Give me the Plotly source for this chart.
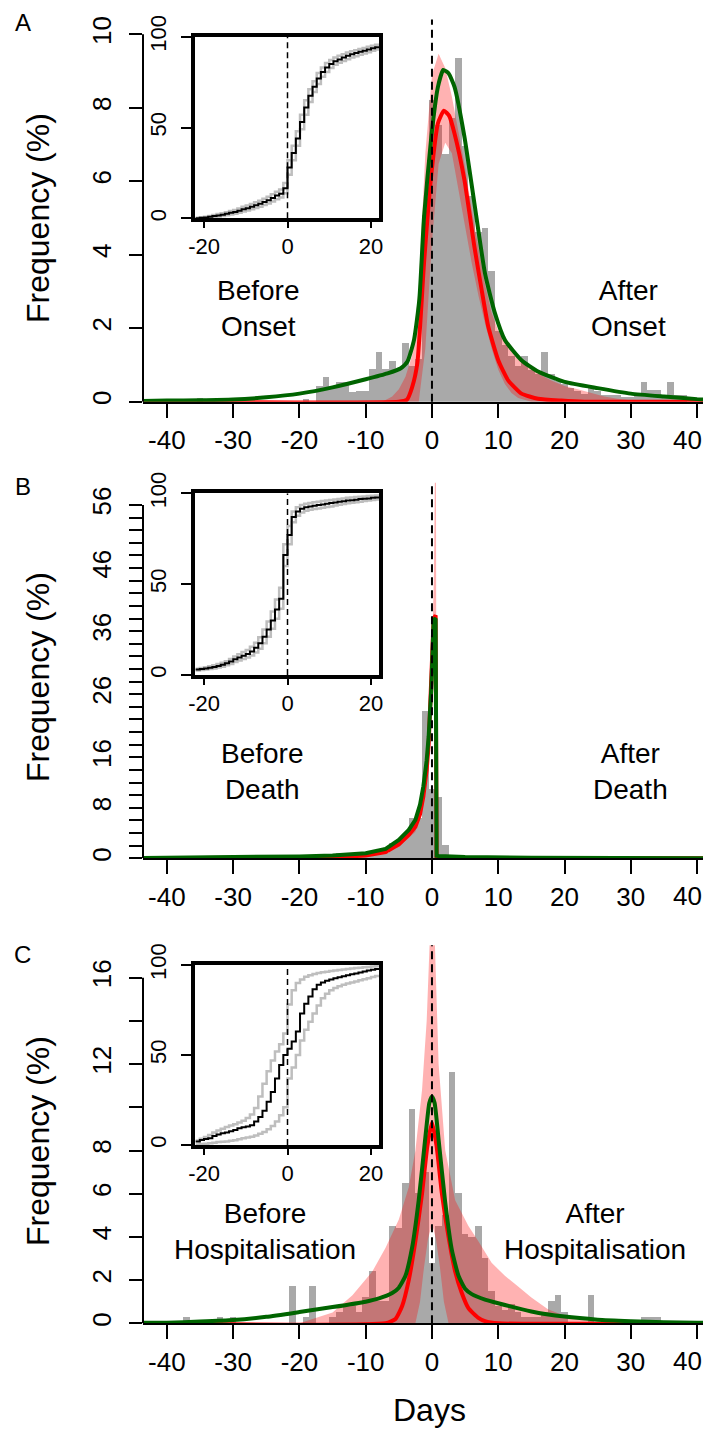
import plotly.graph_objects as go

# ---------------- data ----------------
# Panel A (onset): histogram, % per day
A_hist_days = [-35, -19, -17, -16, -15, -14, -13, -12, -11, -10, -9, -8, -7, -6, -5, -4, -3, -2, -1, 0,
               1, 2, 3, 4, 5, 6, 7, 8, 9, 10, 11, 12, 13, 14, 15, 16, 17, 18, 19, 20,
               21, 22, 23, 24, 25, 26, 27, 28, 29, 30, 31, 32, 33, 34, 35, 36, 37, 38]
A_hist_pct = [0.1, 0.08, 0.43, 0.67, 0.43, 0.56, 0.56, 0.27, 0.29, 0.29, 0.91, 1.36, 0.91, 1.11, 0.91, 1.6, 0.97, 1.16,
              5.08, 8.21, 7.53, 6.76, 7.73, 9.37, 6.96, 5.6, 4.64, 4.73, 3.57, 1.93, 1.55, 1.26, 0.97, 1.25, 0.87, 0.77,
              1.36, 0.77, 0.58, 0.48, 0.39, 0.29, 0.22, 0.41, 0.29, 0.19, 0.19, 0.19, 0.14, 0.14, 0.19, 0.54, 0.32, 0.32,
              0.1, 0.54, 0.19, 0.19]
A_red_x = [-43.6, -5, -3.8, -3, -2.2, -1.2, -0.1, 0.9, 1.8, 2.6, 3.4, 4.9, 6.4, 7.5, 8.5, 10, 11.5, 13.5, 16, 19.5, 23, 42.1]
A_red_y = [0, 0, 0.05, 0.39, 1.06, 3.77, 6.18, 7.58, 7.92, 7.78, 7.3, 6.03, 4.22, 3.04, 2.04, 1.13, 0.58, 0.22, 0.08, 0.03, 0, 0]
A_green_x = [-43.6, -40, -35, -30, -25, -20, -15, -10, -6.7, -4.7, -3.7, -2.7, -1.9, -1.2, -0.1, 0.9, 1.7, 2.5, 3.4,
             4.9, 6.4, 8, 9.5, 11, 13.5, 16, 20, 25, 30, 35, 40, 42.1]
A_green_y = [0.02, 0.03, 0.04, 0.06, 0.12, 0.22, 0.39, 0.61, 0.77, 0.91, 1.09, 1.69, 2.8, 5.02, 7.21, 8.57, 9.03, 8.94, 8.57,
             7.21, 5.4, 3.49, 2.41, 1.68, 1.13, 0.82, 0.54, 0.37, 0.22, 0.14, 0.07, 0.05]
A_upper_x = [-7.5, -6, -5, -4, -3, -2, -1, 0, 1, 2, 3, 4, 5, 6, 7, 8, 9, 10, 11, 12, 14, 16, 18, 20, 22, 24, 26, 28, 30, 32]
A_upper_y = [0, 0.14, 0.34, 0.68, 1.26, 3.09, 6.76, 8.89, 9.47, 9.08, 8.31, 7.34, 6.38, 5.22, 4.15, 3.19, 2.42, 1.93, 1.64,
             1.4, 1.06, 0.77, 0.58, 0.43, 0.34, 0.24, 0.14, 0.08, 0.03, 0]
A_lower_x = [-2, -1, 0, 1, 2, 3, 4, 5, 6, 7, 8, 9, 10, 11, 12, 13, 15]
A_lower_y = [0, 1.45, 4.35, 6.47, 7.05, 6.76, 5.8, 4.73, 3.77, 2.9, 2.13, 1.45, 0.87, 0.48, 0.24, 0.1, 0]

# Panel B (death)
B_hist_days = [-26, -20, -17, -14, -12, -11, -10, -9, -8, -7, -6, -5, -4, -3, -2, -1, 0, 1, 2, 3, 4, 5, 6, 8, 12]
B_hist_pct = [0.3, 0.2, 0.3, 0.8, 0.4, 0.5, 0.6, 0.6, 0.8, 0.8, 2.4, 2.4, 3.4, 6.35, 6.35, 23.3, 11.0, 9.8, 2.1, 0.5,
              0.5, 0.3, 0.2, 0.2, 0.2]
B_red_x = [-43.6, -25, -15, -10, -7, -5, -3.5, -2.5, -1.8, -1.3, -0.8, -0.5, -0.1, 0.25, 0.55, 0.7, 42.1]
B_red_y = [0, 0.05, 0.15, 0.45, 1.0, 2.2, 3.7, 5.0, 7.0, 9.8, 14, 18, 27, 38, 38.5, 0, 0]
B_green_x = [-43.6, -30, -20, -15, -10, -7, -5, -3.5, -2.5, -1.8, -1.3, -0.8, -0.5, -0.1, 0.25, 0.55, 0.7, 1, 5, 15, 25, 42.1]
B_green_y = [0.05, 0.15, 0.3, 0.45, 0.8, 1.5, 2.9, 4.5, 6.1, 8.5, 11.4, 15.5, 19.3, 27, 37.8, 38.0, 0.4, 0.35, 0.2, 0.08, 0.05, 0.02]
B_upper_x = [-43.6, -20, -10, -5, -2.5, -1.3, -0.5, 0, 0.3, 0.45, 0.6, 0.7, 42.1]
B_upper_y = [0, 0.1, 0.6, 2.6, 5.8, 11, 20, 32, 45, 62, 62, 0, 0]
B_lower_x = [-43.6, -10, -5, -2.5, -1.3, -0.5, 0, 0.5, 0.6, 0.7, 42.1]
B_lower_y = [0, 0.3, 1.8, 4.2, 8.5, 16, 24, 30, 30, 0, 0]

# Panel C (hospitalisation)
C_hist_days = [-37, -32, -30, -21, -19, -18, -15, -14, -13, -12, -11, -10, -9, -8, -7, -6, -5, -4, -3, -2, -1, 0,
               1, 2, 3, 4, 5, 6, 7, 8, 9, 10, 11, 12, 13, 14, 15, 16, 17, 18, 19, 20, 24, 32, 33, 34]
C_hist_pct = [0.3, 0.3, 0.3, 1.7, 0.3, 1.7, 0.3, 0.5, 0.8, 0.8, 0.5, 1.2, 2.4, 1.0, 1.0, 4.5, 4.4, 6.5, 9.9, 6.0, 7.0, 2.8,
              4.5, 5.0, 11.6, 6.0, 4.1, 4.0, 4.5, 3.0, 1.5, 0.8, 0.6, 0.9, 0.5, 0.3, 0.3, 0.3, 0.5, 1.0, 1.3, 0.5, 1.3,
              0.3, 0.3, 0.3]
C_red_x = [-43.6, -7, -5.5, -4.5, -3.5, -2.5, -1.5, -0.7, 0, 0.7, 1.5, 2.5, 3.5, 4.5, 5.5, 7, 8, 10, 42.1]
C_red_y = [0, 0, 0.2, 0.8, 2.0, 3.8, 6.0, 8.2, 9.3, 8.2, 6.0, 4.0, 2.4, 1.4, 0.7, 0.25, 0.1, 0, 0]
C_green_x = [-43.6, -40, -35, -30, -25, -20, -15, -10, -8, -6, -5, -4, -3, -2, -1, -0.4, 0, 0.4, 1, 2, 3, 4, 5, 6, 8,
             10, 15, 20, 25, 30, 35, 40, 42.1]
C_green_y = [0.02, 0.03, 0.08, 0.15, 0.3, 0.52, 0.75, 1.0, 1.15, 1.4, 1.65, 2.2, 3.5, 5.7, 8.6, 10.2, 10.5, 10.2, 8.5, 5.6,
             3.4, 2.2, 1.6, 1.35, 1.1, 0.93, 0.55, 0.31, 0.17, 0.1, 0.05, 0.03, 0.02]
C_upper_x = [-20, -15, -12, -9, -7, -5, -3.5, -2.5, -1.5, -0.8, -0.3, 0, 0.4, 1, 2, 3.5, 5.5, 7, 9, 11, 13, 15, 17.5,
             20, 23, 26.5]
C_upper_y = [0, 0.5, 1.3, 2.4, 3.5, 4.8, 6.3, 8.0, 10.8, 14, 18, 20, 18, 12, 8, 5.7, 4.5, 3.8, 2.8, 2.2, 1.7, 1.2, 0.65,
             0.35, 0.15, 0]
C_lower_x = [-2.5, -1.8, -1.2, -0.6, 0, 0.6, 1.2, 1.8, 2.5]
C_lower_y = [0, 1.0, 2.6, 3.9, 4.6, 3.9, 2.6, 1.0, 0]

# Insets: cumulative % per day, -22..22
inset_days = list(range(-22, 23))
A_cdf = [0, 0.3, 0.5, 0.8, 1.2, 1.6, 2.0, 2.5, 3.0, 3.5, 4.2, 5.0, 5.6, 6.4, 7.2, 8.0, 9.0, 10.0, 11.2, 12.5, 13.5, 16.5,
         28, 36, 44, 53, 61, 67.5, 72.5, 77, 80.5, 83, 85, 86.5, 87.5, 88.5, 89.5, 90.3, 91, 91.7, 92.3, 93, 93.6, 94.2, 94.8]
A_cdf_hi = [0.3, 0.6, 0.9, 1.3, 1.8, 2.3, 2.8, 3.4, 4.0, 4.6, 5.4, 6.3, 7.0, 7.9, 8.8, 9.7, 10.8, 11.9, 13.2, 14.6, 15.8,
            19.5, 32, 40, 48, 57, 65, 71, 75.5, 80, 83, 85.5, 87.2, 88.5, 89.5, 90.4, 91.3, 92, 92.6, 93.2, 93.8, 94.4, 95,
            95.5, 96]
A_cdf_lo = [0, 0.1, 0.2, 0.4, 0.7, 1.0, 1.3, 1.7, 2.1, 2.5, 3.1, 3.8, 4.3, 5.0, 5.7, 6.4, 7.3, 8.2, 9.3, 10.5, 11.4, 13.8,
            24, 32, 40, 49, 57, 64, 69.5, 74, 78, 80.5, 82.8, 84.5, 85.6, 86.6, 87.6, 88.5, 89.3, 90, 90.8, 91.5, 92.2,
            92.9, 93.6]
B_cdf = [3.0, 3.3, 3.6, 4.0, 4.4, 5.0, 5.6, 6.4, 7.4, 8.6, 9.6, 10.6, 11.6, 13, 15, 17.5, 21, 25, 30, 36, 42, 66,
         77, 87, 90, 91.5, 92.3, 92.8, 93.2, 93.5, 93.8, 94.2, 94.6, 95, 95.3, 95.6, 96, 96.2, 96.5, 96.8, 97, 97.2, 97.5,
         97.7, 98]
B_cdf_hi = [3.5, 3.9, 4.3, 4.8, 5.3, 6.0, 6.7, 7.6, 8.8, 10.2, 11.4, 12.6, 13.8, 15.5, 17.8, 20.8, 25, 29.5, 35, 41.5, 48,
            72, 82, 90, 92.3, 93.5, 94.2, 94.7, 95.1, 95.4, 95.7, 96, 96.3, 96.6, 96.9, 97.2, 97.5, 97.7, 97.9, 98.1,
            98.3, 98.5, 98.7, 98.8, 99]
B_cdf_lo = [2.5, 2.7, 3.0, 3.3, 3.6, 4.1, 4.6, 5.3, 6.1, 7.1, 8.0, 8.8, 9.6, 10.8, 12.4, 14.5, 17.5, 21, 25.5, 31, 36.5,
            60, 72, 84, 87.7, 89.5, 90.4, 91, 91.4, 91.7, 92, 92.4, 92.8, 93.3, 93.7, 94.1, 94.5, 94.8, 95.1, 95.4, 95.7,
            96, 96.3, 96.6, 97]
C_cdf = [2.0, 2.8, 3.3, 3.8, 5.0, 5.8, 6.5, 7.0, 7.6, 8.4, 9.3, 9.8, 10.3, 11.0, 13, 15.5, 19, 24, 29.5, 37, 44.5, 50,
         53.5, 57.5, 63, 73, 78.5, 82.5, 86.5, 89, 90.3, 91.2, 92, 92.6, 93.2, 93.8, 94.3, 94.8, 95.3, 95.8, 96.4, 96.9,
         97.4, 97.8, 98.2]
C_cdf_hi = [2.5, 3.5, 4.5, 5.5, 7.0, 8.0, 9.0, 10.0, 10.8, 11.5, 12.5, 13.5, 15.0, 17.0, 20.5, 27, 34, 41, 47, 52, 56, 62,
            78, 86, 90, 92, 93.5, 94.3, 95, 95.5, 96, 96.3, 96.6, 96.9, 97.2, 97.5, 97.8, 98.1, 98.3, 98.5, 98.7, 98.9,
            99.1, 99.3, 99.5]
C_cdf_lo = [0.3, 0.5, 0.7, 1.0, 1.3, 1.6, 1.8, 2.0, 2.3, 2.7, 3.2, 3.7, 4.2, 4.6, 5.3, 6.2, 7.2, 8.8, 10.5, 13, 16.5, 21,
            37, 43, 50, 58, 64, 68.5, 73, 77.5, 81.5, 84, 86, 87.2, 88.2, 89, 89.7, 90.3, 90.9, 91.5, 92.1, 92.7, 93.3,
            93.9, 94.5]

x_ticks = [-40, -30, -20, -10, 0, 10, 20, 30, 40]
inset_xticks = [-20, 0, 20]
inset_yticks = [0, 50, 100]
A_yticks = [0, 2, 4, 6, 8, 10]
A_ylabels = ['0', '2', '4', '6', '8', '10']
B_yticks = list(range(0, 57, 2))
B_ylabels = {0: '0', 8: '8', 16: '16', 26: '26', 36: '36', 46: '46', 56: '56'}
C_yticks = list(range(0, 17, 2))
C_ylabels = {0: '0', 2: '2', 4: '4', 6: '6', 8: '8', 12: '12', 16: '16'}

# the page body adds an 8px margin all round, so the figure is drawn smaller
# (page stays shorter than the window) and every screen position is shifted
OFF = 8
W, H = 711 - OFF, 1424
VISIBLE_RIGHT = 703.5  # the page clips everything right of this
FONT = 'Liberation Sans, Arial, sans-serif'
GREY = '#A9A9A9'
BAND = 'rgba(255,0,0,0.3)'


def px(x):
    return (x - OFF) / W


def py(y):
    return 1 - (y - OFF) / H


fig = go.Figure()

panels = [
    ('', A_hist_days, A_hist_pct, A_upper_x, A_upper_y, A_lower_x, A_lower_y, A_red_x, A_red_y, A_green_x, A_green_y, 'spline'),
    ('2', B_hist_days, B_hist_pct, B_upper_x, B_upper_y, B_lower_x, B_lower_y, B_red_x, B_red_y, B_green_x, B_green_y, 'linear'),
    ('3', C_hist_days, C_hist_pct, C_upper_x, C_upper_y, C_lower_x, C_lower_y, C_red_x, C_red_y, C_green_x, C_green_y, 'spline'),
]
for k, hd, hp, ux, uy, lx, ly, rx, ry, gx, gy, shape in panels:
    xa, ya = 'x' + k, 'y' + k
    fig.add_trace(go.Bar(x=hd, y=hp, width=1, marker=dict(color=GREY, line=dict(width=0)),
                         xaxis=xa, yaxis=ya, showlegend=False))
    fig.add_trace(go.Scatter(x=ux + lx[::-1], y=uy + ly[::-1], fill='toself', fillcolor=BAND,
                             line=dict(width=0), mode='lines', xaxis=xa, yaxis=ya, showlegend=False))
    fig.add_trace(go.Scatter(x=rx, y=ry, mode='lines', line=dict(color='#FF0000', width=4, shape=shape, smoothing=0.5),
                             xaxis=xa, yaxis=ya, showlegend=False))
    fig.add_trace(go.Scatter(x=gx, y=gy, mode='lines', line=dict(color='#006400', width=4, shape=shape, smoothing=0.5),
                             xaxis=xa, yaxis=ya, showlegend=False))

insets = [('4', A_cdf, A_cdf_hi, A_cdf_lo), ('5', B_cdf, B_cdf_hi, B_cdf_lo), ('6', C_cdf, C_cdf_hi, C_cdf_lo)]
for k, mid, hi, lo in insets:
    for ys, col, w in [(hi, '#BEBEBE', 2.5), (lo, '#BEBEBE', 2.5), (mid, 'black', 2)]:
        fig.add_trace(go.Scatter(x=inset_days, y=ys, mode='lines', line=dict(color=col, width=w, shape='hv'),
                                 xaxis='x' + k, yaxis='y' + k, showlegend=False))

annotations = []


def text(t, x, y, size, angle=0, xanchor='center'):
    annotations.append(dict(text=t, x=px(x), y=py(y), xref='paper', yref='paper', showarrow=False,
                            xanchor=xanchor, yanchor='middle', textangle=angle,
                            font=dict(family=FONT, size=size, color='black')))


# (axis suffix, baseline px, px per %, top of range, ticks, tick labels, end of axis line)
main_geom = [('', 401.7, 36.74, 10.4, A_yticks, A_ylabels, 10),
             ('2', 858.3, 6.31, 59.5, B_yticks, [B_ylabels.get(v, '') for v in B_yticks], 56),
             ('3', 1323.3, 21.6, 17.5, C_yticks, [C_ylabels.get(v, '') for v in C_yticks], 16)]
# last x label would be clipped by the page edge, so it is written separately
x_ticktext = [str(v) for v in x_ticks[:-1]] + ['']
layout = {}
shapes = []
for k, base, ppd, top, yt, yl, ymax in main_geom:
    top_px = base - top * ppd
    layout['xaxis' + k] = dict(domain=[px(143), 1], range=[-43.6, 42.1], anchor='y' + k, automargin=False,
                               tickvals=x_ticks, ticktext=x_ticktext, ticklabeloverflow='allow',
                               ticks='outside', ticklen=14, tickwidth=2, tickcolor='black',
                               showline=True, linewidth=2, linecolor='black',
                               showgrid=False, zeroline=False,
                               tickfont=dict(family=FONT, size=26, color='black'))
    layout['yaxis' + k] = dict(domain=[py(base), py(top_px)], range=[0, top], anchor='x' + k, automargin=False,
                               tickvals=yt, ticktext=yl, tickangle=-90, ticklabeloverflow='allow',
                               ticklabelstandoff=8,
                               ticks='outside', ticklen=13, tickwidth=2, tickcolor='black',
                               showline=False, showgrid=False, zeroline=False,
                               tickfont=dict(family=FONT, size=26, color='black'))
    xr = 'x' + k if k else 'x'
    yr = 'y' + k if k else 'y'
    shapes.append(dict(type='line', xref=xr + ' domain', yref=yr, x0=0, x1=0, y0=0, y1=ymax,
                       line=dict(color='black', width=2)))
    shapes.append(dict(type='line', xref=xr, yref=yr + ' domain', x0=0, x1=0, y0=0, y1=1,
                       line=dict(color='black', width=2, dash='8px,5px')))
    text(str(x_ticks[-1]), VISIBLE_RIGHT, base + 38, 26, xanchor='right')

inset_geom = [('4', 218.3, 36.7), ('5', 675, 493.3), ('6', 1145, 965)]
for k, bot, tp in inset_geom:
    layout['xaxis' + k] = dict(domain=[px(195), px(379)], range=[-22.16, 21.92], anchor='y' + k, automargin=False,
                               tickvals=inset_xticks, ticktext=[str(v) for v in inset_xticks],
                               ticks='outside', ticklen=6, tickwidth=2, tickcolor='black',
                               showline=True, mirror=True, linewidth=3.5, linecolor='black',
                               showgrid=False, zeroline=False,
                               tickfont=dict(family=FONT, size=22, color='black'))
    layout['yaxis' + k] = dict(domain=[py(bot), py(tp)], range=[0, 100], anchor='x' + k, automargin=False,
                               tickvals=inset_yticks, ticktext=[str(v) for v in inset_yticks], tickangle=-90,
                               ticklabelstandoff=6,
                               ticks='outside', ticklen=10, tickwidth=2, tickcolor='black',
                               showline=True, mirror=True, linewidth=3.5, linecolor='black',
                               showgrid=False, zeroline=False,
                               tickfont=dict(family=FONT, size=22, color='black'))
    shapes.append(dict(type='line', xref='x' + k, yref='y' + k, x0=0, x1=0, y0=0, y1=100,
                       line=dict(color='black', width=1.5, dash='6px,4px')))

text('A', 23, 23, 24)
text('B', 23, 487, 24)
text('C', 23, 955, 24)
for yc in [218, 677, 1141]:
    text('Frequency (%)', 38, yc, 32, -90)
text('Before<br>Onset', 258, 308, 28)
text('After<br>Onset', 628, 308, 28)
text('Before<br>Death', 262, 771, 28)
text('After<br>Death', 630, 771, 28)
text('Before<br>Hospitalisation', 265, 1231, 28)
text('After<br>Hospitalisation', 595, 1231, 28)
text('Days', 430, 1410, 32)

fig.update_layout(width=W, height=H, margin=dict(l=0, r=0, t=0, b=0, autoexpand=False), autosize=False,
                  paper_bgcolor='white', plot_bgcolor='rgba(0,0,0,0)', bargap=0,
                  shapes=shapes, annotations=annotations, showlegend=False, **layout)
fig.write_html('out.html')
